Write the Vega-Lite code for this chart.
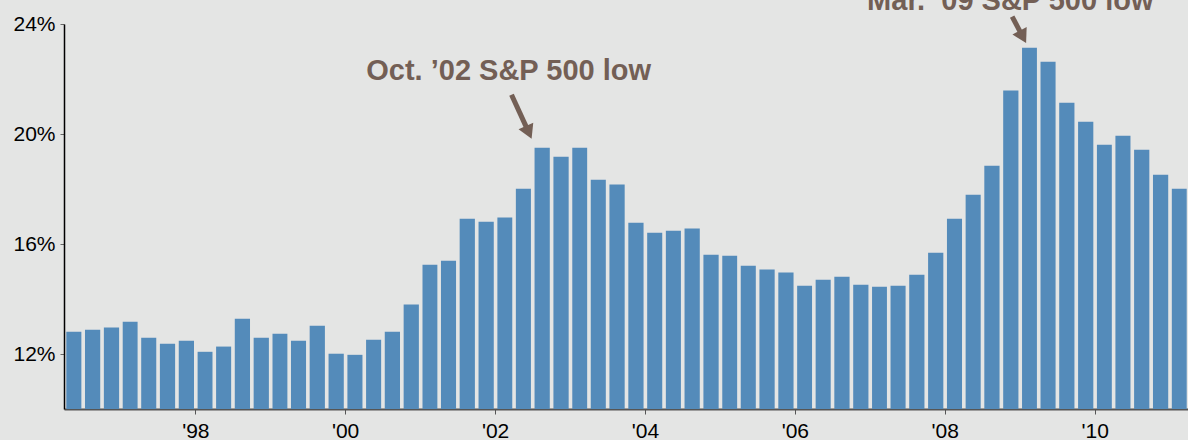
{
  "$schema": "https://vega.github.io/schema/vega-lite/v6.json",
  "width": 1124,
  "height": 385,
  "autosize": {"type": "none"},
  "padding": {"left": 64, "top": 24, "right": 0, "bottom": 31},
  "background": "#e4e5e4",
  "config": {"view": {"stroke": null}, "font": "Liberation Sans"},
  "datasets": {
    "ratio": [
      {"quarter": "1996-04-01", "value": 12.81},
      {"quarter": "1996-07-01", "value": 12.88},
      {"quarter": "1996-10-01", "value": 12.96},
      {"quarter": "1997-01-01", "value": 13.17},
      {"quarter": "1997-04-01", "value": 12.59},
      {"quarter": "1997-07-01", "value": 12.37},
      {"quarter": "1997-10-01", "value": 12.48},
      {"quarter": "1998-01-01", "value": 12.08},
      {"quarter": "1998-04-01", "value": 12.27},
      {"quarter": "1998-07-01", "value": 13.28},
      {"quarter": "1998-10-01", "value": 12.59},
      {"quarter": "1999-01-01", "value": 12.74},
      {"quarter": "1999-04-01", "value": 12.48},
      {"quarter": "1999-07-01", "value": 13.03},
      {"quarter": "1999-10-01", "value": 12.01},
      {"quarter": "2000-01-01", "value": 11.97},
      {"quarter": "2000-04-01", "value": 12.52},
      {"quarter": "2000-07-01", "value": 12.81},
      {"quarter": "2000-10-01", "value": 13.80},
      {"quarter": "2001-01-01", "value": 15.25},
      {"quarter": "2001-04-01", "value": 15.39},
      {"quarter": "2001-07-01", "value": 16.92},
      {"quarter": "2001-10-01", "value": 16.81},
      {"quarter": "2002-01-01", "value": 16.96},
      {"quarter": "2002-04-01", "value": 18.01},
      {"quarter": "2002-07-01", "value": 19.50},
      {"quarter": "2002-10-01", "value": 19.17},
      {"quarter": "2003-01-01", "value": 19.50},
      {"quarter": "2003-04-01", "value": 18.34},
      {"quarter": "2003-07-01", "value": 18.16},
      {"quarter": "2003-10-01", "value": 16.77},
      {"quarter": "2004-01-01", "value": 16.41},
      {"quarter": "2004-04-01", "value": 16.48},
      {"quarter": "2004-07-01", "value": 16.56},
      {"quarter": "2004-10-01", "value": 15.61},
      {"quarter": "2005-01-01", "value": 15.57},
      {"quarter": "2005-04-01", "value": 15.21},
      {"quarter": "2005-07-01", "value": 15.07},
      {"quarter": "2005-10-01", "value": 14.96},
      {"quarter": "2006-01-01", "value": 14.48},
      {"quarter": "2006-04-01", "value": 14.70},
      {"quarter": "2006-07-01", "value": 14.81},
      {"quarter": "2006-10-01", "value": 14.52},
      {"quarter": "2007-01-01", "value": 14.45},
      {"quarter": "2007-04-01", "value": 14.48},
      {"quarter": "2007-07-01", "value": 14.88},
      {"quarter": "2007-10-01", "value": 15.68},
      {"quarter": "2008-01-01", "value": 16.92},
      {"quarter": "2008-04-01", "value": 17.79},
      {"quarter": "2008-07-01", "value": 18.85},
      {"quarter": "2008-10-01", "value": 21.58},
      {"quarter": "2009-01-01", "value": 23.14},
      {"quarter": "2009-04-01", "value": 22.63},
      {"quarter": "2009-07-01", "value": 21.14},
      {"quarter": "2009-10-01", "value": 20.45},
      {"quarter": "2010-01-01", "value": 19.61},
      {"quarter": "2010-04-01", "value": 19.94},
      {"quarter": "2010-07-01", "value": 19.43},
      {"quarter": "2010-10-01", "value": 18.52},
      {"quarter": "2011-01-01", "value": 18.01}
    ],
    "notes": [
      {"event": "oct02", "label": "Oct. ’02 S&P 500 low", "date": "2002-03-08", "value": 21.97},
      {"event": "mar09", "label": "Mar. ’09 S&P 500 low", "date": "2008-11-16", "value": 24.52}
    ],
    "arrows": [
      {"event": "oct02", "from_date": "2002-03-22", "from_value": 21.43, "to_date": "2002-06-14", "to_value": 20.06},
      {"event": "mar09", "from_date": "2008-11-25", "from_value": 24.27, "to_date": "2009-01-16", "to_value": 23.53}
    ]
  },
  "layer": [
    {
      "data": {"name": "ratio"},
      "mark": {"type": "bar", "color": "#548bba", "width": {"band": 0.86}},
      "encoding": {
        "x": {
          "field": "quarter",
          "timeUnit": "yearquarter",
          "type": "temporal",
          "scale": {"domain": [{"year": 1996, "month": 4, "date": 1}, {"year": 2011, "month": 4, "date": 1}]},
          "axis": {
            "title": null,
            "values": [{"year": 1998}, {"year": 2000}, {"year": 2002}, {"year": 2004}, {"year": 2006}, {"year": 2008}, {"year": 2010}],
            "format": "'%y",
            "grid": false,
            "domainColor": "#555555",
            "domainWidth": 2,
            "tickColor": "#555555",
            "tickSize": 5,
            "labelFontSize": 21,
            "labelColor": "#000000",
            "labelPadding": 6,
            "labelFlush": false
          }
        },
        "y": {
          "field": "value",
          "type": "quantitative",
          "scale": {"domain": [10, 24], "zero": false, "nice": false},
          "axis": {
            "title": null,
            "values": [12, 16, 20, 24],
            "labelExpr": "datum.value + '%'",
            "grid": false,
            "domainColor": "#000000",
            "domainWidth": 1.5,
            "tickColor": "#666666",
            "tickSize": 4,
            "labelFontSize": 21,
            "labelColor": "#000000",
            "labelPadding": 5
          }
        },
        "y2": {"datum": 10}
      }
    },
    {
      "data": {"name": "arrows"},
      "mark": {"type": "rule", "color": "#735f55", "strokeWidth": 5},
      "encoding": {
        "x": {"field": "from_date", "type": "temporal"},
        "y": {"field": "from_value", "type": "quantitative"},
        "x2": {"field": "to_date"},
        "y2": {"field": "to_value"}
      }
    },
    {
      "data": {"name": "arrows"},
      "transform": [{"filter": "datum.event == 'oct02'"}],
      "mark": {"type": "point", "shape": "triangle-down", "filled": true, "opacity": 1, "color": "#735f55", "size": 260, "angle": 336},
      "encoding": {
        "x": {"field": "to_date", "type": "temporal"},
        "y": {"field": "to_value", "type": "quantitative"}
      }
    },
    {
      "data": {"name": "arrows"},
      "transform": [{"filter": "datum.event == 'mar09'"}],
      "mark": {"type": "point", "shape": "triangle-down", "filled": true, "opacity": 1, "color": "#735f55", "size": 260, "angle": 332},
      "encoding": {
        "x": {"field": "to_date", "type": "temporal"},
        "y": {"field": "to_value", "type": "quantitative"}
      }
    },
    {
      "data": {"name": "notes"},
      "mark": {"type": "text", "color": "#735f55", "font": "Liberation Sans", "fontWeight": "bold", "fontSize": 29, "align": "center", "baseline": "alphabetic"},
      "encoding": {
        "x": {"field": "date", "type": "temporal"},
        "y": {"field": "value", "type": "quantitative"},
        "text": {"field": "label"}
      }
    }
  ]
}
